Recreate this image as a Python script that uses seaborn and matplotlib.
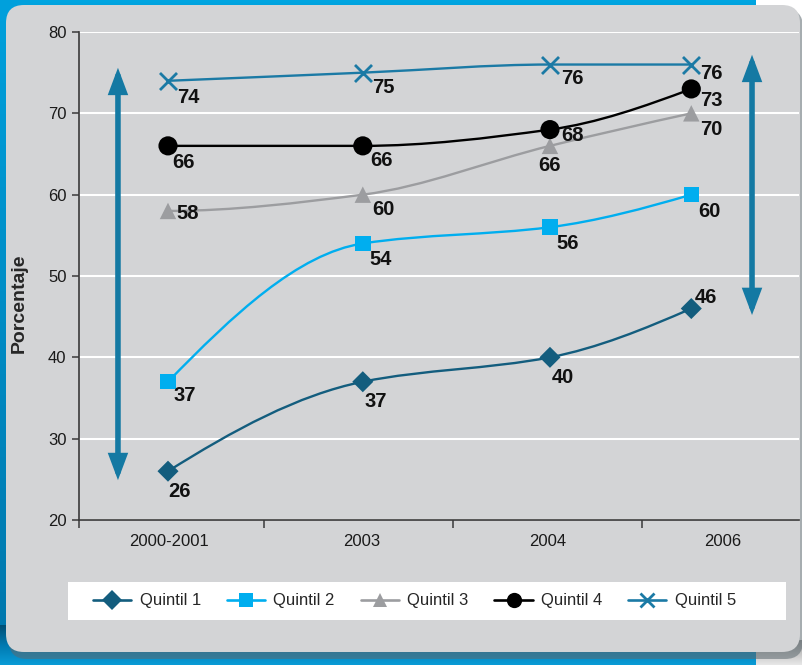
import numpy as np
import pandas as pd
import matplotlib
matplotlib.use("Agg")
import matplotlib.pyplot as plt
from matplotlib.path import Path
from matplotlib.patches import PathPatch, FancyBboxPatch, FancyArrowPatch, Rectangle
from matplotlib.lines import Line2D
from matplotlib import font_manager
import seaborn as sns

# ---- data -------------------------------------------------------------
periodos = ["2000-2001", "2003", "2004", "2006"]
quintiles = ["Quintil 1", "Quintil 2", "Quintil 3", "Quintil 4", "Quintil 5"]
quintil_1 = [26, 37, 40, 46]
quintil_2 = [37, 54, 56, 60]
quintil_3 = [58, 60, 66, 70]
quintil_4 = [66, 66, 68, 73]
quintil_5 = [74, 75, 76, 76]
y_ticks = [20, 30, 40, 50, 60, 70, 80]

valores = [quintil_1, quintil_2, quintil_3, quintil_4, quintil_5]

# ---- styling ----------------------------------------------------------
sns.set_theme(style="white")
available = {f.name for f in font_manager.fontManager.ttflist}
narrow = "Liberation Sans Narrow" if "Liberation Sans Narrow" in available else "Liberation Sans"
plt.rcParams["font.family"] = [narrow, "Liberation Sans", "DejaVu Sans"]

colores = ["#135d7e", "#00aeef", "#9c9da0", "#000000", "#1b7aa5"]
marcadores = ["D", "s", "^", "o", "x"]
tamanos = [115, 125, 140, 190, 150]
flecha_color = "#1479a3"

# horizontal placement of the periods and of their labels on the axis
pos_puntos = [0.0, 1.02, 2.0, 2.74]
pos_etiquetas = [0.005, 1.016, 1.99, 2.906]
pos_divisiones = [-0.466, 0.503, 1.492, 2.482]

# value-label offsets (pixels, right / down) per series and period
offsets = [
    [(12, 20), (13, 20), (13, 20), (15, -11)],
    [(17, 14), (18, 16), (18, 16), (18, 17)],
    [(20, 3), (21, 15), (0, 20), (20, 16)],
    [(16, 17), (19, 15), (23, 6), (20, 12)],
    [(20, 17), (21, 15), (22, 14), (20, 9)],
]

W, H, DPI = 803, 665, 100
fig = plt.figure(figsize=(W / DPI, H / DPI), dpi=DPI)
fig.patch.set_facecolor("white")

# ---- framed background panel (pixel coordinates) ----------------------
bg = fig.add_axes([0, 0, 1, 1], zorder=-10)
bg.set_xlim(0, W)
bg.set_ylim(H, 0)
bg.axis("off")

grad = np.linspace(0, 1, 64).reshape(-1, 1)
top_cmap = matplotlib.colors.LinearSegmentedColormap.from_list("t", ["#00a6e2", "#0091cf"])
bot_cmap = matplotlib.colors.LinearSegmentedColormap.from_list("b", ["#004f75", "#0079b0", "#0a9bd6"])
left_cmap = matplotlib.colors.LinearSegmentedColormap.from_list("l", ["#00a0dc", "#0076ab"])
bg.imshow(grad, cmap=top_cmap, extent=[0, 756, 30, 0], aspect="auto", zorder=0)
bg.imshow(grad, cmap=left_cmap, extent=[0, 30, H, 0], aspect="auto", zorder=0)
bg.imshow(grad, cmap=bot_cmap, extent=[0, 756, H, 625], aspect="auto", zorder=0)
shadow_cmap = matplotlib.colors.LinearSegmentedColormap.from_list("s", ["#9a9a9a", "#e8e8e8"])
bg.imshow(grad, cmap=shadow_cmap, extent=[756, W, H, 640], aspect="auto", zorder=0)
bg.add_patch(FancyBboxPatch((9, 9), 794, 650, boxstyle="round,pad=0,rounding_size=18",
                            facecolor="#5e6a70", edgecolor="none", alpha=0.55, zorder=1))
bg.add_patch(FancyBboxPatch((6, 5), 794, 647, boxstyle="round,pad=0,rounding_size=18",
                            facecolor="#d3d4d6", edgecolor="none", zorder=2))
# white strip behind the legend
bg.add_patch(Rectangle((68, 582), 718, 38, facecolor="white", edgecolor="none", zorder=3))

# ---- main axes --------------------------------------------------------
ax = fig.add_axes([79 / W, (H - 520) / H, 720 / W, 488 / H])
ax.set_facecolor("none")
ax.set_xlim(-0.466, 3.304)
ax.set_ylim(20, 80)

ax.set_yticks(y_ticks)
ax.yaxis.grid(True, color="white", lw=1.5, zorder=0)
ax.xaxis.grid(False)
ax.set_axisbelow(True)
for side in ("top", "right"):
    ax.spines[side].set_visible(False)
for side in ("left", "bottom"):
    ax.spines[side].set_color("#3a3a3a")
    ax.spines[side].set_linewidth(1.2)

ax.tick_params(axis="y", which="major", left=True, length=5, width=1.1, color="#3a3a3a",
               pad=4, labelsize=12, labelcolor="#1a1a1a")
ax.set_xticks(pos_divisiones)
ax.set_xticklabels([])
ax.set_xticks(pos_etiquetas, minor=True)
ax.set_xticklabels(periodos, minor=True)
ax.tick_params(axis="x", which="major", bottom=True, length=6, width=1.1, color="#3a3a3a")
ax.tick_params(axis="x", which="minor", bottom=False, length=0, pad=10,
               labelsize=12, labelcolor="#1a1a1a")


def smooth_path(xs, ys):
    """Monotone cubic (Fritsch-Carlson) curve through the points, as Bezier segments."""
    x = np.asarray(xs, float)
    y = np.asarray(ys, float)
    h = np.diff(x)
    d = np.diff(y) / h
    n = len(x)
    m = np.zeros(n)
    for i in range(1, n - 1):
        if d[i - 1] * d[i] > 0:
            w1 = 2 * h[i] + h[i - 1]
            w2 = h[i] + 2 * h[i - 1]
            m[i] = (w1 + w2) / (w1 / d[i - 1] + w2 / d[i])
    # end slopes: three-point estimates kept monotone
    m0 = ((2 * h[0] + h[1]) * d[0] - h[0] * d[1]) / (h[0] + h[1])
    m[0] = 0 if np.sign(m0) != np.sign(d[0]) else m0
    mn = ((2 * h[-1] + h[-2]) * d[-1] - h[-1] * d[-2]) / (h[-1] + h[-2])
    m[-1] = 0 if np.sign(mn) != np.sign(d[-1]) else mn
    verts = [(x[0], y[0])]
    codes = [Path.MOVETO]
    for i in range(n - 1):
        t = h[i] / 3
        verts += [(x[i] + t, y[i] + m[i] * t), (x[i + 1] - t, y[i + 1] - m[i + 1] * t),
                  (x[i + 1], y[i + 1])]
        codes += [Path.CURVE4] * 3
    return Path(verts, codes)


handles = []
for k, (nombre, vals) in enumerate(zip(quintiles, valores)):
    col = colores[k]
    ax.add_patch(PathPatch(smooth_path(pos_puntos, vals), facecolor="none",
                           edgecolor=col, lw=1.7, zorder=3, capstyle="round"))
    df = pd.DataFrame({"pos": pos_puntos, "valor": vals})
    if marcadores[k] == "x":
        sns.scatterplot(data=df, x="pos", y="valor", marker="x", color=col,
                        s=tamanos[k], linewidth=2.0, ax=ax, zorder=4, legend=False)
    else:
        sns.scatterplot(data=df, x="pos", y="valor", marker=marcadores[k], color=col,
                        s=tamanos[k], linewidth=0, edgecolor="none", ax=ax, zorder=4,
                        legend=False)
    for j, v in enumerate(vals):
        dx, dy = offsets[k][j]
        ax.annotate(f"{v}", (pos_puntos[j], v), xytext=(dx, -dy), textcoords="offset pixels",
                    ha="center", va="center", fontsize=14.5, fontweight="bold",
                    color="#111111", zorder=5)
    handles.append(Line2D([], [], color=col, lw=1.9, marker=marcadores[k],
                          markersize=10 if marcadores[k] != "o" else 11,
                          markeredgewidth=2.0 if marcadores[k] == "x" else 0,
                          label=nombre))

ax.set_xlabel("")
ax.set_ylabel("Porcentaje", fontsize=14, fontweight="bold", family="Liberation Sans")
ax.yaxis.set_label_coords(-0.071, 0.445)

# double-headed range arrows
for x, y0, y1 in [(-0.262, 24.9, 75.6), (3.058, 45.2, 77.2)]:
    ax.add_patch(FancyArrowPatch((x, y0), (x, y1),
                                 arrowstyle="<|-|>,head_length=1.2,head_width=0.45",
                                 mutation_scale=10, lw=4.0, color=flecha_color,
                                 joinstyle="miter", shrinkA=0, shrinkB=0, zorder=3,
                                 clip_on=False))

leg = fig.legend(handles=handles, loc="center left", ncol=5,
                 bbox_to_anchor=(88 / W, (H - 601) / H),
                 frameon=False, fontsize=12, handlelength=2.3,
                 handletextpad=0.5, borderaxespad=0, borderpad=0.3, columnspacing=1.55)

fig.savefig("out.png", dpi=DPI, facecolor=fig.get_facecolor())
